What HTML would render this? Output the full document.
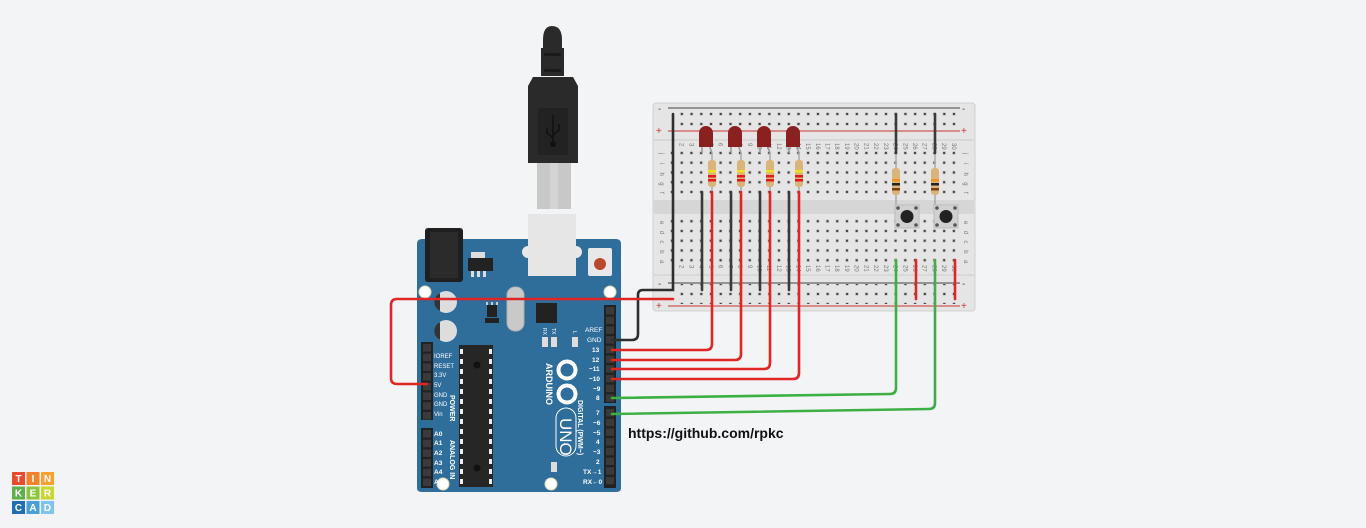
<!DOCTYPE html>
<html><head><meta charset="utf-8">
<style>
html,body{margin:0;padding:0;background:#f3f4f6;}
svg{display:block;}
text{font-family:"Liberation Sans",sans-serif;}
</style></head>
<body>
<svg id="s" width="1366" height="528" viewBox="0 0 1366 528" xmlns="http://www.w3.org/2000/svg">
<defs>
<pattern id="holes" patternUnits="userSpaceOnUse" x="667.14" y="148.1" width="9.72" height="9.75">
<rect x="3.06" y="3.07" width="3.6" height="3.6" fill="#d6d6d6"/>
<rect x="3.76" y="3.77" width="2.2" height="2.2" fill="#444"/>
</pattern>
<pattern id="rholes" patternUnits="userSpaceOnUse" x="677" y="109" width="9.72" height="10">
<rect x="3.06" y="3.2" width="3.6" height="3.6" fill="#d6d6d6"/>
<rect x="3.76" y="3.9" width="2.2" height="2.2" fill="#444"/>
</pattern>
</defs>

<!-- Breadboard -->
<rect x="653" y="103" width="322" height="208" rx="3" fill="#e5e5e5" stroke="#d0d0d0"/>
<rect x="654" y="139" width="320" height="2" fill="#d8d8d8"/>
<rect x="654" y="200" width="320" height="14" fill="#d6d6d6"/>
<rect x="654" y="274" width="320" height="2" fill="#d8d8d8"/>
<line x1="668" y1="108" x2="960" y2="108" stroke="#444" stroke-width="1"/>
<line x1="668" y1="131" x2="960" y2="131" stroke="#c33" stroke-width="1"/>
<line x1="668" y1="283" x2="960" y2="283" stroke="#444" stroke-width="1"/>
<line x1="668" y1="306" x2="960" y2="306" stroke="#c33" stroke-width="1"/>
<rect x="677" y="109" width="284" height="20" fill="url(#rholes)"/>
<rect x="677" y="284" width="284" height="20" fill="url(#rholes)"/>
<rect x="667.14" y="148.1" width="291.6" height="48.75" fill="url(#holes)"/>
<rect x="667.14" y="216.1" width="291.6" height="48.75" fill="url(#holes)"/>
<g font-size="10" fill="#555">
<text x="658" y="112">-</text><text x="962" y="112">-</text>
<text x="656" y="134" fill="#c33">+</text><text x="961" y="134" fill="#c33">+</text>
<text x="658" y="287">-</text><text x="962" y="287">-</text>
<text x="656" y="309" fill="#c33">+</text><text x="961" y="309" fill="#c33">+</text>
</g>
<g id="labels" font-size="6" fill="#777"></g>

<!-- Arduino board -->
<path d="M417 244 Q417 239 422 239 L616 239 Q621 239 621 244 L621 488 Q621 492 616 492 L422 492 Q417 492 417 488 Z" fill="#2f6d9b"/>
<rect x="425" y="228" width="38" height="54" rx="3" fill="#1f1f1f"/>
<rect x="430" y="232" width="28" height="46" fill="#2b2b2b"/>
<rect x="471" y="252" width="14" height="6" fill="#ddd"/>
<rect x="468" y="258" width="25" height="13" fill="#222"/>
<rect x="471" y="271" width="3" height="6" fill="#ddd"/><rect x="477" y="271" width="3" height="6" fill="#ddd"/><rect x="483" y="271" width="3" height="6" fill="#ddd"/>
<ellipse cx="528" cy="252" rx="6" ry="6" fill="#e8e8e8"/><ellipse cx="576" cy="252" rx="6" ry="6" fill="#e8e8e8"/>
<rect x="528" y="214" width="48" height="62" fill="#e6e6e6"/>
<rect x="588" y="248" width="24" height="28" rx="2" fill="#e8e8e8"/>
<circle cx="600" cy="264" r="6" fill="#b8492e"/>
<circle cx="425" cy="292" r="6" fill="#fff" stroke="#e0d9b0"/>
<circle cx="610" cy="292" r="6" fill="#fff" stroke="#e0d9b0"/>
<circle cx="443" cy="484" r="6" fill="#fff" stroke="#e0d9b0"/>
<circle cx="551" cy="484" r="6" fill="#fff" stroke="#e0d9b0"/>
<circle cx="446" cy="302" r="11" fill="#ddd"/><path d="M440 293 A10 10 0 0 0 440 311 Z" fill="#333"/>
<circle cx="446" cy="331" r="11" fill="#ddd"/><path d="M440 322 A10 10 0 0 0 440 340 Z" fill="#333"/>
<rect x="487" y="305" width="10" height="12" fill="#222"/>
<rect x="486" y="302" width="2" height="3" fill="#ccc"/><rect x="491" y="302" width="2" height="3" fill="#ccc"/><rect x="496" y="302" width="2" height="3" fill="#ccc"/>
<rect x="485" y="318" width="14" height="5" fill="#222"/>
<rect x="507" y="287" width="17" height="44" rx="8" fill="#c9c9c9" stroke="#b0b0b0"/>
<rect x="536" y="303" width="21" height="20" fill="#222"/>
<rect x="542" y="337" width="6" height="10" fill="#ddd"/><rect x="551" y="337" width="6" height="10" fill="#ddd"/><rect x="572" y="337" width="6" height="10" fill="#ddd"/>
<rect x="551" y="462" width="6" height="10" fill="#ddd"/>
<rect x="459" y="345" width="34" height="142" fill="#262626"/>
<g fill="#eee" id="chippins"></g>
<circle cx="477" cy="365" r="3.5" fill="#111"/><circle cx="477" cy="468" r="3.5" fill="#111"/>
<rect x="604" y="305" width="12" height="98" fill="#222"/>
<rect x="604" y="406" width="12" height="82" fill="#222"/>
<rect x="421" y="342" width="12" height="78" fill="#222"/>
<rect x="421" y="428" width="12" height="60" fill="#222"/>
<g id="pins" fill="#3a3a3a"></g>
<g fill="#fff" font-size="6.5" font-weight="bold">
<text x="585" y="332" font-weight="normal">AREF</text>
<text x="587" y="342" font-weight="normal">GND</text>
<text x="592" y="352">13</text><text x="592" y="362">12</text>
<text x="589" y="371">~11</text><text x="589" y="381">~10</text>
<text x="593" y="391">~9</text><text x="596" y="400">8</text>
<text x="596" y="415">7</text><text x="593" y="425">~6</text><text x="593" y="435">~5</text>
<text x="596" y="444">4</text><text x="593" y="454">~3</text><text x="596" y="464">2</text>
<text x="583" y="474">TX→1</text><text x="583" y="484">RX←0</text>
<g font-weight="normal" font-size="6">
<text x="434" y="358">IOREF</text><text x="434" y="368">RESET</text><text x="434" y="377">3.3V</text>
<text x="434" y="387">5V</text><text x="434" y="397">GND</text><text x="434" y="406">GND</text><text x="434" y="416">Vin</text>
</g>
<text x="434" y="436">A0</text><text x="434" y="445">A1</text><text x="434" y="455">A2</text>
<text x="434" y="465">A3</text><text x="434" y="474">A4</text><text x="434" y="484">A5</text>
<text transform="translate(450,395) rotate(90)" font-size="7">POWER</text>
<text transform="translate(450,440) rotate(90)" font-size="7">ANALOG IN</text>
<text transform="translate(578,400) rotate(90)" font-size="7">DIGITAL (PWM~)</text>
<text transform="translate(546,363) rotate(90)" font-size="9">ARDUINO</text>
<text transform="translate(560,418) rotate(90)" font-size="17" font-weight="normal">UNO</text>
<text transform="translate(543,328) rotate(90)" font-size="5" font-weight="normal">RX</text>
<text transform="translate(552,328) rotate(90)" font-size="5" font-weight="normal">TX</text>
<text transform="translate(573,331) rotate(90)" font-size="5" font-weight="normal">L</text>
</g>
<g fill="none" stroke="#fff" stroke-width="4">
<circle cx="567" cy="370" r="8.5"/><circle cx="567" cy="394" r="8.5"/>
</g>
<rect x="556" y="408" width="20" height="48" rx="10" fill="none" stroke="#fff" stroke-width="1"/>

<!-- USB cable -->
<path d="M543 40 Q543 26 552 26 Q562 26 562 40 L562 50 L543 50 Z" fill="#2a2a2a"/>
<rect x="541" y="48" width="23" height="28" fill="#2a2a2a"/>
<rect x="544" y="53" width="17" height="3" rx="1.5" fill="#1a1a1a"/><rect x="544" y="69" width="17" height="3" rx="1.5" fill="#1a1a1a"/>
<path d="M533 77 L573 77 L578 86 L578 163 L528 163 L528 86 Z" fill="#2a2a2a"/>
<rect x="538" y="108" width="30" height="47" fill="#222"/>
<g stroke="#111" stroke-width="1.5" fill="none"><line x1="553" y1="115" x2="553" y2="143"/><path d="M547 128 L547 133 L553 138 M559 124 L559 130 L553 135"/></g>
<circle cx="553" cy="144" r="3" fill="#111"/>
<rect x="537" y="163" width="34" height="46" fill="#c8c8c8"/>
<rect x="550" y="163" width="8" height="46" fill="#d4d4d4"/>

<g id="comps"></g>

<g fill="none" stroke-linecap="round" stroke-width="2.6">
<path d="M673 114 L673 290 L643 290 Q638 290 638 295 L638 334 Q638 340 632 340 L612 340" stroke="#2e2e2e"/>
<path d="M673 299 L397 299 Q391 299 391 305 L391 378 Q391 384 397 384 L427 384" stroke="#e02525"/>
<path d="M712 192 L712 344 Q712 350 706 350 L612 350" stroke="#e02525"/>
<path d="M741 192 L741 354 Q741 360 735 360 L612 360" stroke="#e02525"/>
<path d="M770 192 L770 363 Q770 369 764 369 L612 369" stroke="#e02525"/>
<path d="M799 192 L799 373 Q799 379 793 379 L612 379" stroke="#e02525"/>
<path d="M896 260 L896 388 Q896 394 890 394 L612 398" stroke="#3cb043"/>
<path d="M935 260 L935 403 Q935 409 929 409 L612 414" stroke="#3cb043"/>
<path d="M702 192 L702 290 M731 192 L731 290 M760 192 L760 290 M789 192 L789 290" stroke="#3a3a3a"/>
<path d="M896 114 L896 153 M935 114 L935 153" stroke="#3a3a3a"/>
<path d="M916 260 L916 299 M955 260 L955 299" stroke="#e02525"/>
</g>

<text x="628" y="438" font-size="14" font-weight="bold" fill="#111" font-family="'DejaVu Sans','Liberation Sans',sans-serif">https://github.com/rpkc</text>

<g font-size="10" font-weight="bold" fill="#fff" text-anchor="middle">
<rect x="12" y="472" width="13" height="13" fill="#e94b2c"/><text x="18.5" y="482">T</text>
<rect x="26.5" y="472" width="13" height="13" fill="#f5822a"/><text x="33" y="482">I</text>
<rect x="41" y="472" width="13" height="13" fill="#f7a12e"/><text x="47.5" y="482">N</text>
<rect x="12" y="486.5" width="13" height="13" fill="#5fb04a"/><text x="18.5" y="496.5">K</text>
<rect x="26.5" y="486.5" width="13" height="13" fill="#8cc63f"/><text x="33" y="496.5">E</text>
<rect x="41" y="486.5" width="13" height="13" fill="#c8d62f"/><text x="47.5" y="496.5">R</text>
<rect x="12" y="501" width="13" height="13" fill="#1f6fb5"/><text x="18.5" y="511">C</text>
<rect x="26.5" y="501" width="13" height="13" fill="#4a9fd9"/><text x="33" y="511">A</text>
<rect x="41" y="501" width="13" height="13" fill="#7fc4ec"/><text x="47.5" y="511">D</text>
</g>
</svg>
<script>
var NS="http://www.w3.org/2000/svg";
function el(p,t,a){var e=document.createElementNS(NS,t);for(var k in a)e.setAttribute(k,a[k]);p.appendChild(e);return e;}
var pins=document.getElementById("pins");
for(var i=0;i<10;i++)el(pins,"rect",{x:606,y:307+i*9.7,width:8,height:7.5});
for(var i=0;i<8;i++)el(pins,"rect",{x:606,y:409+i*9.7,width:8,height:7.5});
for(var i=0;i<8;i++)el(pins,"rect",{x:423,y:344+i*9.7,width:8,height:7.5});
for(var i=0;i<6;i++)el(pins,"rect",{x:423,y:430+i*9.7,width:8,height:7.5});
var cp=document.getElementById("chippins");
for(var i=0;i<14;i++){el(cp,"rect",{x:460,y:349+i*10,width:3,height:5});el(cp,"rect",{x:489,y:349+i*10,width:3,height:5});}
var lb=document.getElementById("labels");
for(var c=2;c<=30;c++){var x=672+(c-1)*9.72;
 var t=el(lb,"text",{transform:"translate("+(x-2)+",143) rotate(90)"});t.textContent=c;
 var t2=el(lb,"text",{transform:"translate("+(x-2)+",265) rotate(90)"});t2.textContent=c;}
"jihgf".split("").forEach(function(r,i){var y=155+i*9.75;var a=el(lb,"text",{transform:"translate(660,"+(y-2)+") rotate(90)"});a.textContent=r;var b=el(lb,"text",{transform:"translate(964,"+(y-2)+") rotate(90)"});b.textContent=r;});
"edcba".split("").forEach(function(r,i){var y=223+i*9.75;var a=el(lb,"text",{transform:"translate(660,"+(y-2)+") rotate(90)"});a.textContent=r;var b=el(lb,"text",{transform:"translate(964,"+(y-2)+") rotate(90)"});b.textContent=r;});
var cm=document.getElementById("comps");
[706,735,764,793].forEach(function(x){
 el(cm,"line",{x1:x-4,y1:145,x2:x-4,y2:153,stroke:"#999","stroke-width":1.5});
 el(cm,"path",{d:"M"+(x+3)+" 145 L"+(x+6)+" 153",stroke:"#999","stroke-width":1.5,fill:"none"});
 el(cm,"path",{d:"M"+(x-7)+" 147 L"+(x-7)+" 133 A7 7 0 0 1 "+(x+7)+" 133 L"+(x+7)+" 147 Z",fill:"#8b2020"});
 var r=x+6;
 el(cm,"line",{x1:r,y1:153,x2:r,y2:192,stroke:"#aaa","stroke-width":1.5});
 el(cm,"rect",{x:r-4,y:160,width:8,height:27,rx:3,fill:"#d9b57c"});
 el(cm,"rect",{x:r-4,y:170,width:8,height:2.5,fill:"#f1e01d"});
 el(cm,"rect",{x:r-4,y:175,width:8,height:2.5,fill:"#e01b1b"});
 el(cm,"rect",{x:r-4,y:179,width:8,height:2.5,fill:"#e01b1b"});
});
[896,935].forEach(function(x){
 el(cm,"line",{x1:x,y1:153,x2:x,y2:207,stroke:"#aaa","stroke-width":1.5});
 el(cm,"rect",{x:x-4,y:168,width:8,height:27,rx:3,fill:"#d9b57c"});
 el(cm,"rect",{x:x-4,y:179,width:8,height:2.5,fill:"#f0921d"});
 el(cm,"rect",{x:x-4,y:183,width:8,height:2.5,fill:"#222"});
 el(cm,"rect",{x:x-4,y:188,width:8,height:2.5,fill:"#7a3f12"});
 el(cm,"rect",{x:x-1,y:205,width:24,height:23,fill:"#d0d0d0",stroke:"#bbb"});
 el(cm,"circle",{cx:x+11,cy:216.5,r:6.5,fill:"#222"});
 [[x+2,208],[x+20,208],[x+2,225],[x+20,225]].forEach(function(p){el(cm,"circle",{cx:p[0],cy:p[1],r:1.8,fill:"#555"});});
});
</script>
</body></html>
